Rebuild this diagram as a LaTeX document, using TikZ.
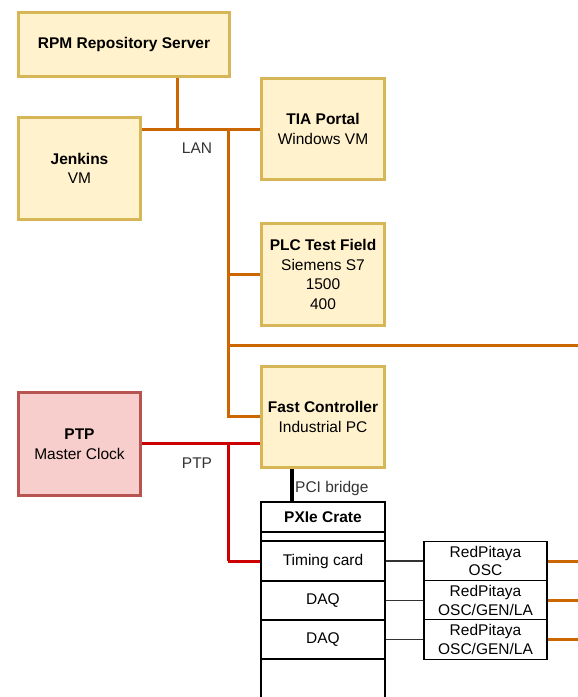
\documentclass[tikz,border=0pt]{standalone}
\usepackage{fontspec}
\setmainfont{Liberation Sans}
\definecolor{yfill}{HTML}{FFF2CC}
\definecolor{ydraw}{HTML}{D6B656}
\definecolor{pfill}{HTML}{F8CECC}
\definecolor{pdraw}{HTML}{B85450}
\definecolor{lanc}{HTML}{CC6600}
\definecolor{ptpc}{HTML}{CC0000}
\begin{document}
\begin{tikzpicture}[x=1pt,y=-1pt,
  every node/.style={font=\fontsize{15.5}{19.5}\selectfont, inner sep=0pt, align=center},
  ybox/.style={draw=ydraw, fill=yfill, line width=3pt, minimum width=#1},
  ybox/.default=123,
  pbox/.style={draw=pdraw, fill=pfill, line width=3pt, minimum width=122, minimum height=103},
  cell/.style={draw=black, fill=white, line width=1.2pt, minimum width=124},
  rpcell/.style={draw=black, fill=white, line width=1.2pt, minimum width=123, minimum height=39.5, font=\fontsize{15.5}{18.5}\selectfont},
  lan/.style={draw=lanc, line width=3pt},
  ptp/.style={draw=ptpc, line width=3pt},
  thin/.style={draw=black!80, line width=1.1pt},
  lbl/.style={font=\fontsize{15.5}{19}\selectfont, text=black!80}
]
\useasboundingbox (0,0) rectangle (578,697);
\fill[white] (0,0) rectangle (578,697);

% junction coordinates
\coordinate (j1) at (177,129);
\coordinate (j2) at (228,129);
\coordinate (j3) at (228,416);
\coordinate (j4) at (228,345);
\coordinate (e4) at (578,345);
\coordinate (r1) at (228,443);
\coordinate (r2) at (228,561);

% yellow boxes
\node[ybox=211, minimum height=64] (rpm) at (124,44.5) {\textbf{RPM Repository Server}};
\node[ybox=122, minimum height=102] (jen) at (79.5,168.5) {\textbf{Jenkins}\\VM};
\node[ybox, minimum height=101] (tia) at (323,129) {\textbf{TIA Portal}\\Windows VM};
\node[ybox, minimum height=102] (plc) at (323,274.5) {\textbf{PLC Test Field}\\Siemens S7\\1500\\400};
\node[ybox, minimum height=101] (fc) at (323,417) {\textbf{Fast Controller}\\Industrial PC};
\node[pbox] (ptpn) at (79.5,444) {\textbf{PTP}\\Master Clock};

% LAN lines
\draw[lan] (j1 |- rpm.south) -- (j1);
\draw[lan] (jen.east |- j1) -- (tia.west |- j1);
\draw[lan] (j2) -- (j3) -- (fc.west |- j3);
\draw[lan] (j2 |- plc.west) -- (plc.west);
\draw[lan] (j4) -- (e4);

% PTP lines
\draw[ptp] (ptpn.east |- r1) -- (fc.west |- r1);
\draw[ptp] (r1) -- (r2);

% PXIe crate
\begin{scope}
\clip (0,0) rectangle (578,697);
\node[cell, minimum height=30] (hdr) at (323,517) {\textbf{PXIe Crate}};
\node[cell, minimum height=9] (gap) at (323,536.5) {};
\node[cell, minimum height=40] (tim) at (323,561) {Timing card};
\node[cell, minimum height=39] (daq1) at (323,600.5) {DAQ};
\node[cell, minimum height=39] (daq2) at (323,639.5) {DAQ};
\node[cell, minimum height=60] (rest) at (323,689) {};
\end{scope}
\draw[ptp] (r2) -- (tim.west);

% PCI bridge
\coordinate (pcx) at (292,0);
\draw[black, line width=4pt] (pcx |- fc.south) -- (pcx |- hdr.north);
\node[lbl, anchor=west] (pcil) at (295,488) {PCI bridge};

% RedPitaya boxes
\node[rpcell] (rp1) at (485.5,561) {RedPitaya\\OSC};
\node[rpcell] (rp2) at (485.5,600.5) {RedPitaya\\OSC/GEN/LA};
\node[rpcell] (rp3) at (485.5,639.5) {RedPitaya\\OSC/GEN/LA};

\draw[thin] (tim.east) -- (rp1.west);
\draw[thin] (daq1.east) -- (rp2.west);
\draw[thin] (daq2.east) -- (rp3.west);

\coordinate (o1) at (578,561);
\coordinate (o2) at (578,600.5);
\coordinate (o3) at (578,639.5);
\draw[lan] (rp1.east) -- (o1);
\draw[lan] (rp2.east) -- (o2);
\draw[lan] (rp3.east) -- (o3);

% labels
\node[lbl] (lanl) at (197,148) {LAN};
\node[lbl] (ptpl) at (197,463) {PTP};
\end{tikzpicture}
\end{document}
